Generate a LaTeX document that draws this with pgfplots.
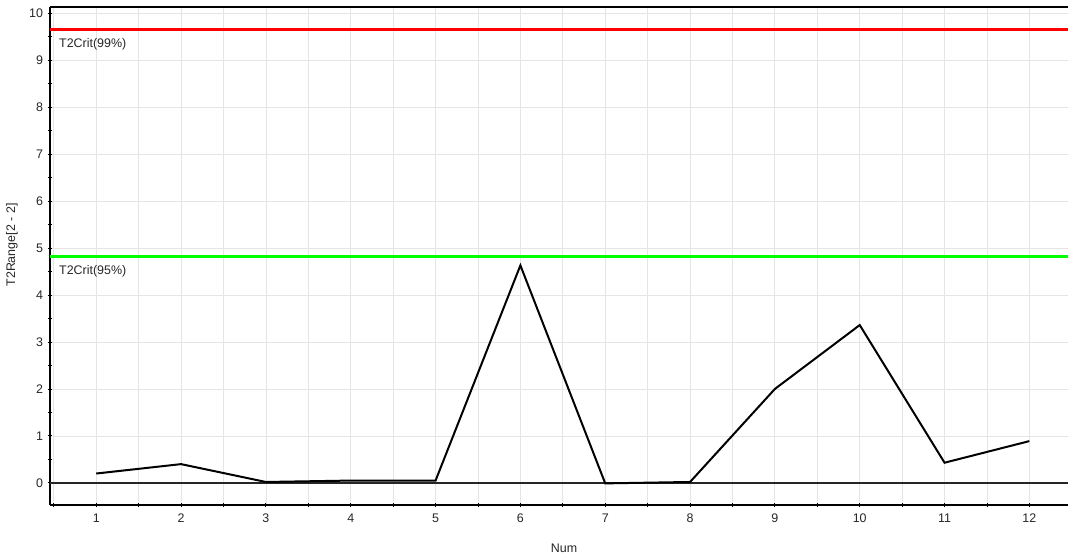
\documentclass[border=0pt]{standalone}
\usepackage{fontspec}
\setmainfont{Liberation Sans}
\usepackage{pgfplots}
\pgfplotsset{compat=1.18}
\begin{document}
\begin{tikzpicture}[x=1bp,y=1bp]
\begin{axis}[
  at={(0,0)}, anchor=south west,
  scale only axis,
  width=1018bp, height=498bp,
  xmin=0.455, xmax=12.455,
  ymin=-0.47, ymax=10.13,
  axis x line*=bottom, axis y line*=left,
  axis line style={line width=1.2bp},
  xtick={1,...,12},
  minor xtick={0.5,1.5,...,12.5},
  ytick={0,...,10},
  minor ytick={-0.5,0.5,...,9.5},
  tick align=center,
  major tick length=5bp, minor tick length=5bp,
  tick style={line width=0.9bp, black},
  grid=both,
  major grid style={color=black!10, line width=0.8bp},
  minor x grid style={color=black!10, line width=0.8bp},
  minor y grid style={draw=none},
  /pgf/number format/assume math mode=true,
  tick label style={font=\fontsize{12.5}{14}\selectfont, color=black!85},
  xticklabel style={yshift=-3bp},
  yticklabel style={xshift=-1bp},
  clip=false,
]
\addplot[line width=1.2bp, black!85, forget plot] coordinates {(0.455,0) (12.455,0)};
\addplot[line width=2.6bp, red] coordinates {(0.455,9.65) (12.455,9.65)};
\addplot[line width=2.6bp, green] coordinates {(0.455,4.82) (12.455,4.82)};
\addplot[line width=2bp, black, line join=miter] coordinates {
(1,0.20) (2,0.40) (3,0.02) (4,0.05) (5,0.05) (6,4.63) (7,-0.01) (8,0.02) (9,2.00) (10,3.36) (11,0.43) (12,0.89)};
\draw[line width=1.2bp, black] (rel axis cs:0,1) -- (rel axis cs:1,1);
\node[anchor=north west, inner sep=0pt, font=\fontsize{12.5}{14}\selectfont, color=black!85] at (axis cs:0.455,9.65) [xshift=9bp, yshift=-9bp] {T2Crit(99\%)};
\node[anchor=north west, inner sep=0pt, font=\fontsize{12.5}{14}\selectfont, color=black!85] at (axis cs:0.455,4.82) [xshift=9bp, yshift=-9bp] {T2Crit(95\%)};
\end{axis}
\node[rotate=90, font=\fontsize{12.5}{14}\selectfont, color=black!85] at (-38bp,260bp) {T2Range[2 - 2]};
\node[font=\fontsize{12.5}{14}\selectfont, color=black!85] at (514bp,-43bp) {Num};
\pgfresetboundingbox
\path[use as bounding box] (-50bp,-52bp) rectangle (1018bp,505bp);
\end{tikzpicture}
\end{document}
